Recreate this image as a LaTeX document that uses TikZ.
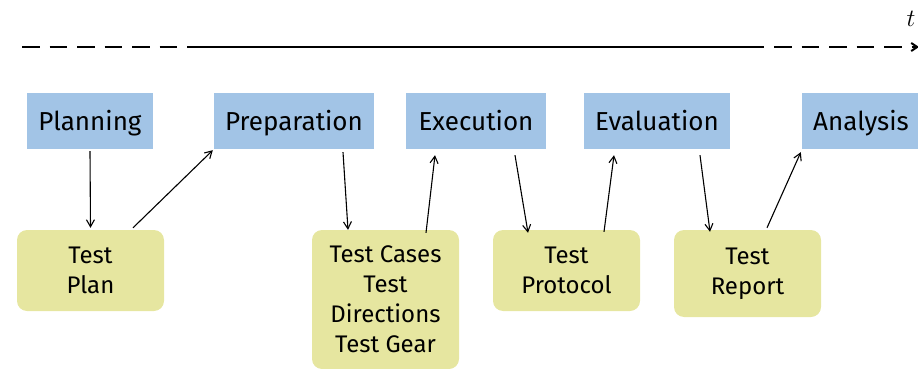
\documentclass[tikz,border=0pt]{standalone}
\usepackage{fontspec}
\setmainfont{Fira Sans}
\usetikzlibrary{arrows.meta}
\definecolor{boxblue}{RGB}{162,196,230}
\definecolor{boxyellow}{RGB}{230,230,160}
\begin{document}
\begin{tikzpicture}[x=1pt,y=-1pt,
  phase/.style={fill=boxblue, draw=none, inner sep=0pt, minimum height=56pt,
    text height=21pt, text depth=3pt,
    font=\fontsize{26}{30}\selectfont},
  doc/.style={fill=boxyellow, draw=none, rounded corners=10pt, inner sep=0pt,
    minimum width=147pt, align=center, font=\fontsize{24}{30}\selectfont},
  conn/.style={line width=1.1pt, -{Straight Barb[length=7pt,width=8pt,line width=1.1pt]}},
  timeline/.style={line width=2pt}
]
\useasboundingbox (0,0) rectangle (918,369);
% timeline
\coordinate (t0) at (22,47);
\coordinate (t1) at (187,47);
\coordinate (t2) at (764,47);
\coordinate (t3) at (919,47);
\draw[timeline, dash pattern=on 17.5pt off 10pt] (t0) -- (t1);
\draw[timeline] (t1) -- (t2);
\draw[timeline, dash pattern=on 17.5pt off 10pt, dash phase=17.5pt, -{Straight Barb[length=6pt,width=8pt]}] (t2) -- (t3);
\node[font=\fontsize{28}{32}\selectfont] (tlabel) at (911,19) {$t$};
% phases
\node[phase, minimum width=126pt] (pl) at (90,121) {Planning};
\node[phase, minimum width=160pt] (pr) at (294,121) {Preparation};
\node[phase, minimum width=140pt] (ex) at (476,121) {Execution};
\node[phase, minimum width=146pt] (ev) at (657,121) {Evaluation};
\node[phase, minimum width=118pt] (an) at (861,121) {Analysis};
% documents
\node[doc, minimum height=81pt] (tp) at (90.5,270.5) {Test\\Plan};
\node[doc, minimum height=139pt] (tc) at (385.5,299.5) {Test Cases\\Test\\Directions\\Test Gear};
\node[doc, minimum height=81pt] (tpr) at (566.5,270.5) {Test\\Protocol};
\node[doc, minimum height=87pt] (trp) at (747.5,273.5) {Test\\Report};
% connectors
\draw[conn] ([yshift=-2pt]pl.south) -- ([yshift=2pt]tp.north);
\draw[conn] ([xshift=42.5pt,yshift=2pt]tp.north) -- ([xshift=-1pt,yshift=-1pt]pr.south west);
\draw[conn] ([xshift=49pt,yshift=-3pt]pr.south) -- ([xshift=-37.5pt]tc.north);
\draw[conn] ([xshift=40.5pt,yshift=-3pt]tc.north) -- ([xshift=-41pt,yshift=-6pt]ex.south);
\draw[conn] ([xshift=39pt,yshift=-6pt]ex.south) -- ([xshift=-38.5pt,yshift=-3pt]tpr.north);
\draw[conn] ([xshift=37.5pt,yshift=-2pt]tpr.north) -- ([xshift=-43pt,yshift=-6pt]ev.south);
\draw[conn] ([xshift=43pt,yshift=-6pt]ev.south) -- ([xshift=-37.5pt,yshift=-2pt]trp.north);
\draw[conn] ([xshift=19.5pt,yshift=2pt]trp.north) -- ([xshift=-1pt,yshift=-3pt]an.south west);
\end{tikzpicture}
\end{document}
